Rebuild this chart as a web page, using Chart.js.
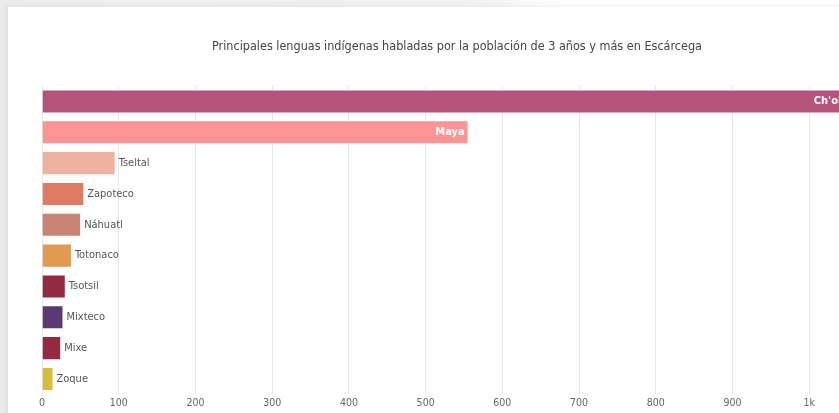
<!DOCTYPE html>
<html>
<head>
<meta charset="utf-8">
<script src="https://cdn.jsdelivr.net/npm/chart.js@4.4.0/dist/chart.umd.min.js"></script>
<style>
  html, body { margin: 0; padding: 0; overflow: hidden; background: #fff; width: 839px; height: 413px; }
  #bg { position: absolute; left: 0; top: 0; width: 839px; height: 413px;
        background: linear-gradient(90deg, #ececec 0px, #f3f3f3 480px, #ffffff 560px); }
  #card { position: absolute; left: 8px; top: 7px; width: 898px; height: 414px; background: #fff;
          box-shadow: -2px -1px 6px rgba(0,0,0,0.06); }
  #c { display: block; }
</style>
</head>
<body>
<div id="bg"></div>
<div id="card"><canvas id="c" width="898" height="414"></canvas></div>
<script>
const titleText = "Principales lenguas indígenas habladas por la población de 3 años y más en Escárcega";
const categories = ["Ch'ol", "Maya", "Tseltal", "Zapoteco", "Náhuatl", "Totonaco", "Tsotsil", "Mixteco", "Mixe", "Zoque"];
const values = [1047, 556, 96, 55, 51, 39, 31, 28, 25, 15];
const barColors = ["#b4547c", "#ff9494", "#eeb3a0", "#e07b63", "#c98574", "#e09a52", "#932a40", "#5b3a72", "#932a40", "#d9bb3c"];
const tickStep = 100;

const FONT = "'Noto Sans Condensed', 'DejaVu Sans Condensed', sans-serif";

const barLabels = {
  id: 'barLabels',
  afterDatasetsDraw(chart) {
    const ctx = chart.ctx;
    const meta = chart.getDatasetMeta(0);
    ctx.save();
    ctx.textBaseline = 'middle';
    meta.data.forEach((bar, i) => {
      const text = categories[i];
      const w = bar.x - bar.base;
      if (w > 200) {
        ctx.font = "bold 11px " + FONT;
        ctx.fillStyle = '#ffffff';
        ctx.textAlign = 'right';
        ctx.fillText(text, bar.x - 4, bar.y);
      } else {
        ctx.font = "11px " + FONT;
        ctx.fillStyle = '#555555';
        ctx.textAlign = 'left';
        ctx.fillText(text, bar.x + 3, bar.y);
      }
    });
    ctx.restore();
  }
};

new Chart(document.getElementById('c'), {
  type: 'bar',
  data: {
    labels: categories,
    datasets: [{
      data: values,
      backgroundColor: barColors,
      borderColor: '#ffffff',
      borderWidth: 1,
      barPercentage: 0.78,
      categoryPercentage: 1.0
    }]
  },
  options: {
    indexAxis: 'y',
    responsive: false,
    animation: false,
    layout: { padding: { left: 20, right: 20, top: 0, bottom: 8 } },
    plugins: {
      legend: { display: false },
      tooltip: { enabled: false },
      title: {
        display: true,
        text: titleText,
        color: '#444444',
        font: { family: FONT, size: 12.5, weight: 'normal' },
        padding: { top: 32, bottom: 32 }
      }
    },
    scales: {
      x: {
        min: 0,
        ticks: {
          stepSize: tickStep,
          color: '#666666',
          padding: 3,
          font: { family: FONT, size: 10.5 },
          callback: v => v >= 1000 ? (v / 1000) + 'k' : v
        },
        grid: { color: '#e6e6e6', lineWidth: 1, drawTicks: false },
        border: { display: false }
      },
      y: {
        display: true,
        ticks: { display: false },
        grid: { display: false, drawTicks: false },
        border: { display: false },
        afterFit: s => { s.width = 14; }
      }
    }
  },
  plugins: [barLabels]
});
</script>
</body>
</html>
